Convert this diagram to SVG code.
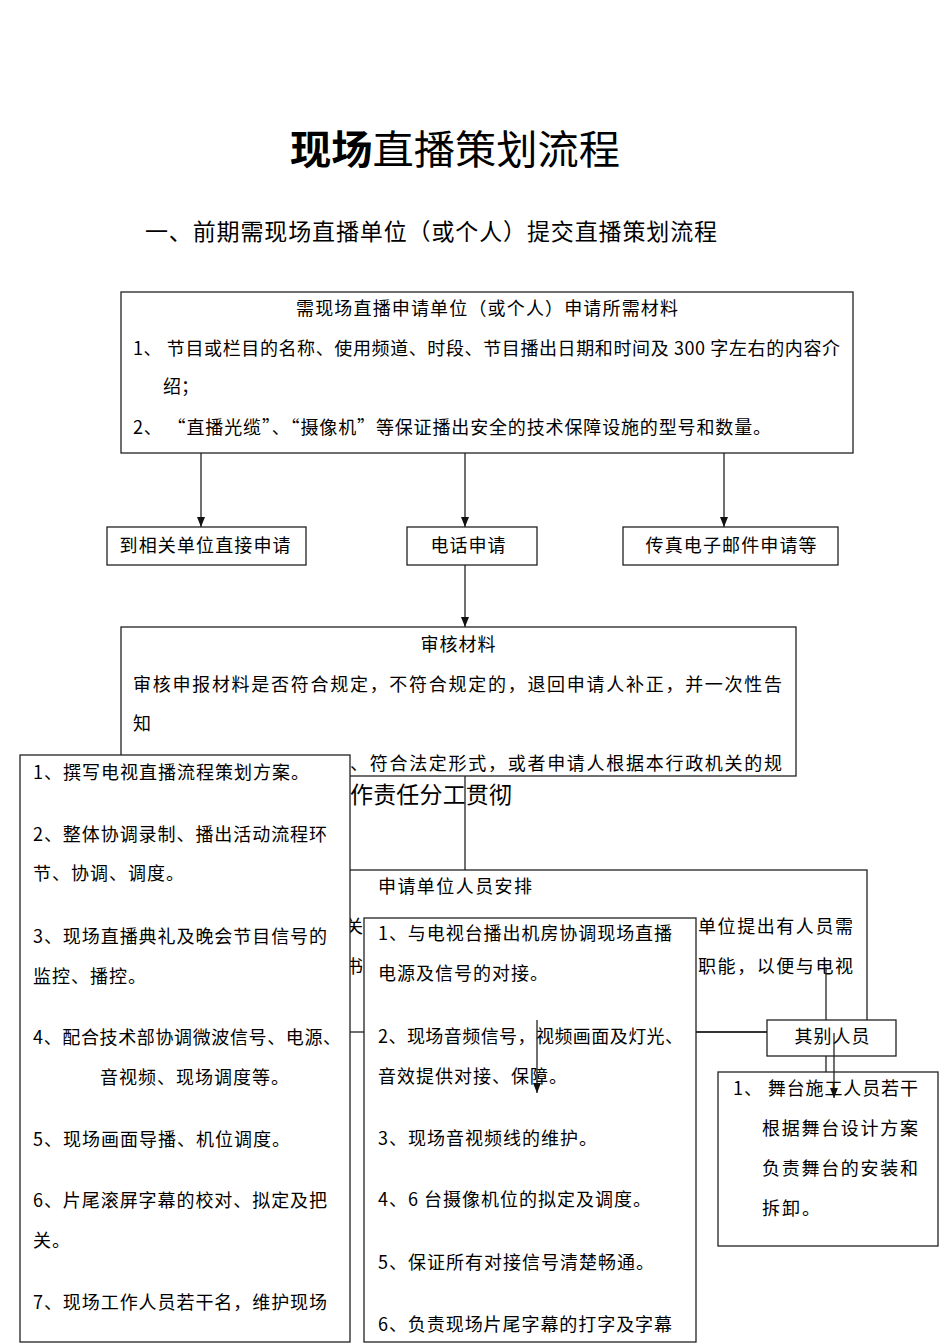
<svg xmlns="http://www.w3.org/2000/svg" width="950" height="1344" viewBox="0 0 950 1344">
<style>
.bg{fill:#ffffff}
.box{fill:#ffffff;stroke:#222;stroke-width:1.3}
.ln{fill:none;stroke:#222;stroke-width:1.3}
.t{font-family:"Noto Sans CJK SC","Noto Sans",sans-serif;font-size:18px;fill:#000}
.tc{font-family:"Noto Sans CJK SC","Noto Sans",sans-serif;font-size:18px;fill:#000;text-anchor:middle}
.ls{letter-spacing:1px}
.wide{letter-spacing:2px}
</style>
<defs>
<marker id="arr" viewBox="0 0 10 8" markerWidth="10" markerHeight="8" refX="10" refY="4" orient="auto" markerUnits="userSpaceOnUse">
<path d="M0,0 L10,4 L0,8 z" fill="#111"/>
</marker>
</defs>
<rect class="bg" x="0" y="0" width="950" height="1344"/>

<g id="title">
<text x="455" y="164" text-anchor="middle" style="font-family:'Noto Sans CJK SC',sans-serif;font-size:40px" textLength="330" lengthAdjust="spacingAndGlyphs"><tspan font-weight="bold">现场</tspan><tspan>直播策划流程</tspan></text>
<text x="145" y="240" style="font-family:'Noto Sans CJK SC',sans-serif;font-size:23px" textLength="572" lengthAdjust="spacing">一、前期需现场直播单位（或个人）提交直播策划流程</text>
</g>

<g id="materials">
<rect class="box" x="121" y="292" width="732" height="161"/>
<text class="tc" x="487" y="315" textLength="382" lengthAdjust="spacing">需现场直播申请单位（或个人）申请所需材料</text>
<text class="t" x="133" y="355" textLength="707" lengthAdjust="spacing">1、 节目或栏目的名称、使用频道、时段、节目播出日期和时间及 300 字左右的内容介</text>
<text class="t" x="163" y="393">绍；</text>
<text class="t" x="133" y="434" textLength="638" lengthAdjust="spacing">2、 “直播光缆”、“摄像机”等保证播出安全的技术保障设施的型号和数量。</text>
</g>

<g id="direct">
<rect class="box" x="107" y="527" width="199" height="38"/>
<text class="tc" x="205" y="552" textLength="171" lengthAdjust="spacing">到相关单位直接申请</text>
</g>
<g id="phone">
<rect class="box" x="407" y="527" width="130" height="38"/>
<text class="tc" x="468" y="552" textLength="75" lengthAdjust="spacing">电话申请</text>
</g>
<g id="fax">
<rect class="box" x="623" y="527" width="215" height="38"/>
<text class="tc" x="731" y="552" textLength="171" lengthAdjust="spacing">传真电子邮件申请等</text>
</g>

<g id="review">
<rect class="box" x="121" y="627" width="675" height="149"/>
<text class="tc" x="458" y="651" textLength="75" lengthAdjust="spacing">审核材料</text>
<text class="t" x="133" y="691" textLength="649" lengthAdjust="spacing">审核申报材料是否符合规定，不符合规定的，退回申请人补正，并一次性告</text>
<text class="t" x="133" y="730">知</text>
<text class="t" x="350" y="770" textLength="432" lengthAdjust="spacing">、符合法定形式，或者申请人根据本行政机关的规</text>
</g>

<g id="duty">
<text x="350" y="803" style="font-family:'Noto Sans CJK SC',sans-serif;font-size:23px" textLength="162" lengthAdjust="spacing">作责任分工贯彻</text>
</g>

<g id="staff">
<rect class="box" x="200" y="870" width="667" height="162"/>
<text class="t" x="378" y="893" textLength="154" lengthAdjust="spacing">申请单位人员安排</text>
<text class="t" x="345" y="933">关</text>
<text class="t" x="345" y="973">书</text>
<text class="t" x="698" y="933" textLength="155" lengthAdjust="spacing">单位提出有人员需</text>
<text class="t" x="698" y="973" textLength="155" lengthAdjust="spacing">职能，以便与电视</text>
</g>

<g id="planning">
<rect class="box" x="20" y="755" width="330" height="587"/>
<text class="t ls" x="33" y="779">1、撰写电视直播流程策划方案。</text>
<text class="t ls" x="33" y="841" textLength="295" lengthAdjust="spacing">2、整体协调录制、播出活动流程环</text>
<text class="t ls" x="33" y="880">节、协调、调度。</text>
<text class="t ls" x="33" y="943" textLength="295" lengthAdjust="spacing">3、现场直播典礼及晚会节目信号的</text>
<text class="t ls" x="33" y="983">监控、播控。</text>
<text class="t ls" x="33" y="1044" textLength="309" lengthAdjust="spacing">4、配合技术部协调微波信号、电源、</text>
<text class="t ls" x="100" y="1084">音视频、现场调度等。</text>
<text class="t ls" x="33" y="1146">5、现场画面导播、机位调度。</text>
<text class="t ls" x="33" y="1207" textLength="295" lengthAdjust="spacing">6、片尾滚屏字幕的校对、拟定及把</text>
<text class="t ls" x="33" y="1247">关。</text>
<text class="t ls" x="33" y="1309" textLength="295" lengthAdjust="spacing">7、现场工作人员若干名，维护现场</text>
</g>

<g id="technical">
<rect class="box" x="364" y="918" width="332" height="424"/>
<text class="t ls" x="378" y="940" textLength="295" lengthAdjust="spacing">1、与电视台播出机房协调现场直播</text>
<text class="t ls" x="378" y="980">电源及信号的对接。</text>
<text class="t ls" x="378" y="1043" textLength="306" lengthAdjust="spacing">2、现场音频信号，视频画面及灯光、</text>
<text class="t ls" x="378" y="1083">音效提供对接、保障。</text>
<text class="t ls" x="378" y="1145">3、现场音视频线的维护。</text>
<text class="t ls" x="378" y="1206">4、6 台摄像机位的拟定及调度。</text>
<text class="t ls" x="378" y="1269">5、保证所有对接信号清楚畅通。</text>
<text class="t ls" x="378" y="1331" textLength="295" lengthAdjust="spacing">6、负责现场片尾字幕的打字及字幕</text>
</g>

<g id="others">
<rect class="box" x="767" y="1020" width="129" height="36"/>
<text class="tc" x="832" y="1043" textLength="75" lengthAdjust="spacing">其别人员</text>
</g>

<g id="stage">
<rect class="box" x="718" y="1072" width="220" height="174"/>
<text class="t wide" x="733" y="1095" textLength="187" lengthAdjust="spacing">1、 舞台施工人员若干</text>
<text class="t wide" x="762" y="1135" textLength="158" lengthAdjust="spacing">根据舞台设计方案</text>
<text class="t wide" x="762" y="1175" textLength="158" lengthAdjust="spacing">负责舞台的安装和</text>
<text class="t wide" x="762" y="1215">拆卸。</text>
</g>

<g id="connectors">
<line class="ln" x1="201" y1="453" x2="201" y2="527" marker-end="url(#arr)"/>
<line class="ln" x1="465" y1="453" x2="465" y2="527" marker-end="url(#arr)"/>
<line class="ln" x1="724" y1="453" x2="724" y2="527" marker-end="url(#arr)"/>
<line class="ln" x1="465" y1="565" x2="465" y2="627" marker-end="url(#arr)"/>
<line class="ln" x1="465" y1="776" x2="465" y2="870"/>
<line class="ln" x1="696" y1="1032" x2="767" y2="1032"/>
<line class="ln" x1="826" y1="967" x2="826" y2="1020"/>
<line class="ln" x1="826" y1="1056" x2="826" y2="1072"/>
<line class="ln" x1="537" y1="1020" x2="537" y2="1093" marker-end="url(#arr)"/>
<line class="ln" x1="834" y1="1033" x2="834" y2="1098" marker-end="url(#arr)"/>
</g>
</svg>
